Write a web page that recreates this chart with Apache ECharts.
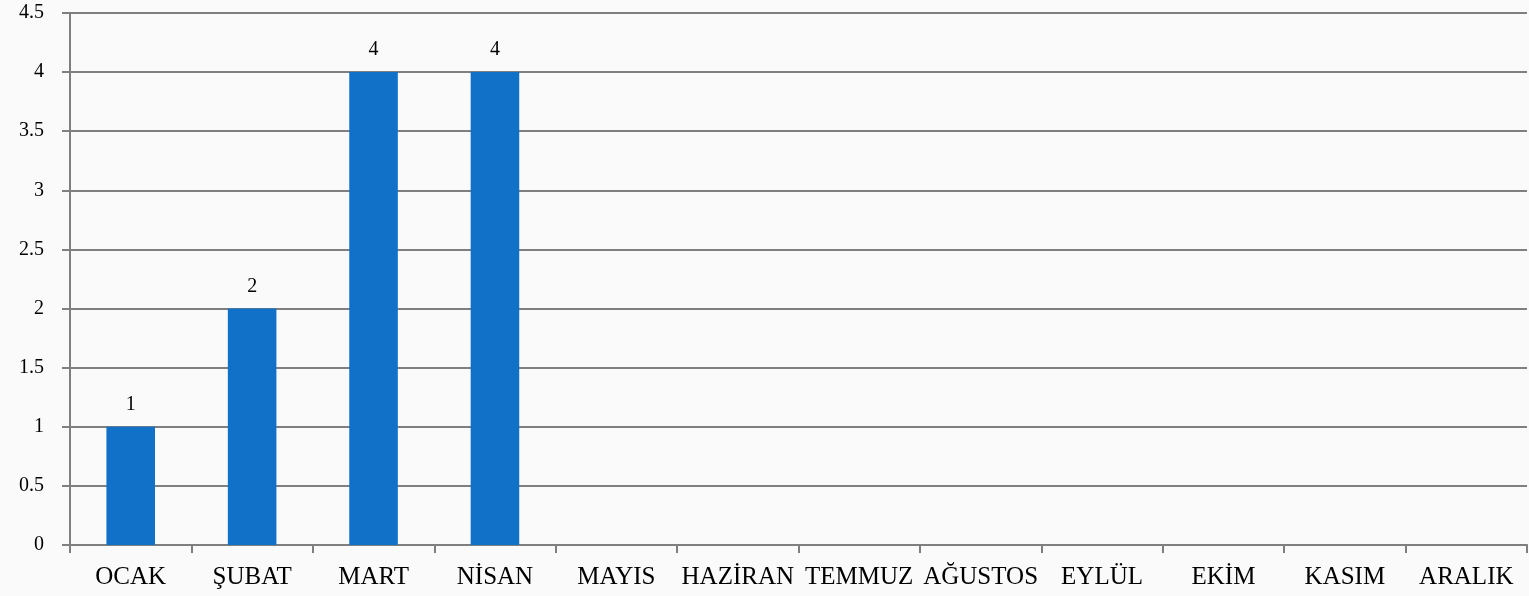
<!DOCTYPE html>
<html>
<head>
<meta charset="utf-8">
<script src="https://cdn.jsdelivr.net/npm/echarts@6/dist/echarts.min.js"></script>
<style>
  html, body { margin: 0; padding: 0; background: #fafafa; }
  #chart { width: 1529px; height: 596px; }
</style>
</head>
<body>
<div id="chart"></div>
<script>
// aylar ve değerler
const months = ['OCAK', 'ŞUBAT', 'MART', 'NİSAN', 'MAYIS', 'HAZİRAN', 'TEMMUZ', 'AĞUSTOS', 'EYLÜL', 'EKİM', 'KASIM', 'ARALIK']
const counts = [1, 2, 4, 4, null, null, null, null, null, null, null, null]

const chart = echarts.init(document.getElementById('chart'))
const fontFamily = '"Liberation Serif", "DejaVu Serif", serif'
const gray = '#7f7f7f'

chart.setOption({
  backgroundColor: '#fafafa',
  animation: false,
  grid: { left: 70, right: 2, top: 13, bottom: 51 },
  xAxis: {
    type: 'category',
    data: months,
    axisLine: { lineStyle: { color: gray, width: 2 } },
    axisTick: { show: true, length: 8, lineStyle: { color: gray, width: 2 } },
    axisLabel: { color: '#000', fontFamily, fontSize: 25, margin: 20, interval: 0 }
  },
  yAxis: {
    type: 'value',
    min: 0,
    max: 4.5,
    interval: 0.5,
    axisLine: { show: true, lineStyle: { color: gray, width: 2 } },
    axisTick: { show: true, length: 8, lineStyle: { color: gray, width: 2 } },
    axisLabel: { color: '#000', fontFamily, fontSize: 20, margin: 26 },
    splitLine: { lineStyle: { color: gray, width: 2 } }
  },
  series: [{
    type: 'bar',
    data: counts,
    barWidth: '40%',
    itemStyle: { color: '#1170c8' },
    label: { show: true, position: 'top', color: '#000', fontFamily, fontSize: 20, distance: 12 }
  }]
})
</script>
</body>
</html>
